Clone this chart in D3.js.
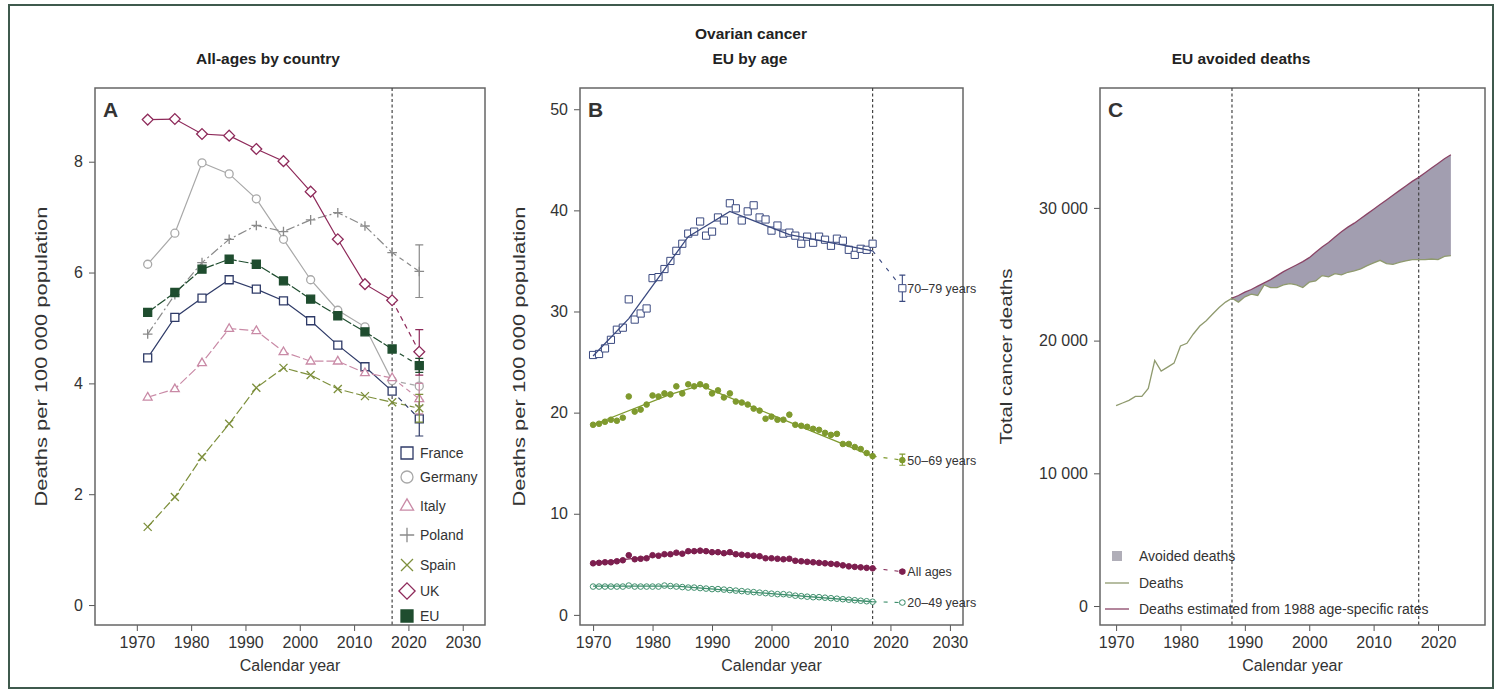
<!DOCTYPE html>
<html>
<head>
<meta charset="utf-8">
<script src="https://cdn.jsdelivr.net/npm/d3@7"></script>
<style>
body{margin:0;background:#fff;}
text{font-family:"Liberation Sans",Arial,sans-serif;fill:#333;}
.ttl{font-family:"Liberation Sans Narrow","Liberation Sans",Arial,sans-serif;font-weight:bold;fill:#222;}
</style>
</head>
<body>
<div id="chart"></div>
<script>
// ---- panel A : all ages by country (5-year periods) ----
const countryYears = [1972,1977,1982,1987,1992,1997,2002,2007,2012,2017]
const predYear = 2022
const countryNames = ["France","Germany","Italy","Poland","Spain","UK","EU"]
const franceRates  = [4.46,5.19,5.54,5.87,5.7,5.49,5.13,4.69,4.3,3.86]
const germanyRates = [6.15,6.71,7.98,7.78,7.33,6.6,5.87,5.32,5.02,4.05]
const italyRates   = [3.75,3.9,4.37,4.99,4.95,4.57,4.4,4.4,4.19,4.1]
const polandRates  = [4.89,5.6,6.18,6.6,6.85,6.74,6.95,7.08,6.84,6.36]
const spainRates   = [1.41,1.95,2.67,3.27,3.92,4.28,4.15,3.9,3.77,3.66]
const ukRates      = [8.76,8.77,8.5,8.47,8.23,8.01,7.46,6.6,5.79,5.5]
const euRates      = [5.28,5.64,6.06,6.24,6.15,5.85,5.52,5.22,4.93,4.62]
// 2022 predictions: [estimate, lower, upper]
const franceHat  = [3.36,3.05,3.7]
const germanyHat = [3.95,3.6,4.3]
const italyHat   = [3.72,3.45,4.0]
const polandHat  = [6.02,5.55,6.5]
const spainHat   = [3.55,3.3,3.8]
const ukHat      = [4.57,4.15,4.97]
const euHat      = [4.32,4.2,4.45]

// ---- panel B : EU by age (annual) ----
const years = d3.range(1970,2018)
const age7079 = [25.7,25.8,26.35,27.2,28.2,28.4,31.2,29.2,29.8,30.3,33.3,33.4,34.2,35.0,36.0,36.7,37.7,37.9,38.9,37.5,
                 37.9,39.3,39.0,40.7,40.2,39.0,39.9,40.5,39.3,39.1,38.0,38.5,37.7,37.8,37.5,36.7,37.4,36.8,37.4,37.1,
                 36.5,37.2,37.0,36.1,35.6,36.2,36.1,36.7]
const age5069 = [18.8,18.9,19.1,19.3,19.2,19.5,21.6,20.1,20.3,20.8,21.7,21.6,21.9,21.8,22.6,21.9,22.8,22.6,22.8,22.6,
                 21.9,22.2,21.5,21.9,21.1,21.0,20.8,20.4,20.2,19.4,19.6,19.3,19.3,19.8,18.8,18.7,18.6,18.4,18.3,18.0,
                 17.8,17.9,16.9,16.9,16.6,16.4,16.0,15.7]
const ageAll  = [5.1,5.15,5.2,5.2,5.3,5.4,5.9,5.5,5.55,5.6,5.9,5.85,6.0,6.0,6.15,6.05,6.3,6.3,6.35,6.3,
                 6.2,6.2,6.1,6.2,6.0,5.95,5.9,5.85,5.8,5.6,5.6,5.55,5.5,5.55,5.35,5.3,5.25,5.2,5.15,5.1,
                 5.05,5.0,4.9,4.8,4.75,4.7,4.65,4.6]
const age2049 = [2.8,2.8,2.8,2.8,2.8,2.8,2.9,2.8,2.8,2.8,2.8,2.8,2.9,2.85,2.8,2.75,2.7,2.7,2.65,2.6,
                 2.55,2.55,2.5,2.45,2.4,2.35,2.3,2.25,2.2,2.15,2.1,2.05,2.05,2.0,1.9,1.85,1.8,1.75,1.75,1.7,
                 1.65,1.6,1.55,1.5,1.45,1.4,1.35,1.3]
// joinpoint fits
const fit7079Years = [1970,1976,1986,1993,2003,2017]
const fit7079      = [25.6,29.3,37.4,39.9,37.6,36.0]
const fit5069Years = [1970,1983,1988,2002,2017]
const fit5069      = [18.8,21.8,22.7,19.3,15.7]
const fitAllYears  = [1970,1988,2017]
const fitAll       = [5.15,6.3,4.6]
const fit2049Years = [1970,1984,2017]
const fit2049      = [2.85,2.85,1.3]
const ageLabels = ["70\u201379 years","50\u201369 years","All ages","20\u201349 years"]
const hat7079 = [32.3,31.0,33.6]
const hat5069 = [15.3,14.8,15.9]
const hatAll  = [4.28,4.15,4.4]
const hat2049 = [1.22,1.1,1.35]

// ---- panel C : EU avoided deaths ----
const deathYears = d3.range(1970,2023)
const deaths = [15100,15300,15500,15800,15800,16400,18500,17700,18000,18300,19600,19800,20500,21100,21500,22000,22500,22900,
                23200,22900,23300,23500,23400,24200,24000,24000,24200,24300,24200,24000,24400,24500,24900,24800,25050,24950,
                25150,25250,25400,25650,25850,26050,25800,25750,25900,26000,26100,26100,26100,26150,26100,26350,26400]
const estYears = d3.range(1988,2023)
const estimated = [23200,23400,23650,23850,24100,24350,24600,24900,25200,25450,25700,25950,26250,26650,27050,27400,27800,28200,
                   28550,28850,29200,29550,29900,30250,30600,30950,31300,31650,32000,32300,32650,33000,33350,33700,34000]

const W = 1501, H = 692
const svg = d3.select("#chart").append("svg").attr("width",W).attr("height",H)

svg.append("rect")
  .attr("x",9).attr("y",5).attr("width",1484).attr("height",683)
  .attr("fill","none").attr("stroke","#3f5a4d").attr("stroke-width",2)

// marker shapes drawn as path strings
function marker(shape, r){
  if(shape=="square") return `M${-r},${-r}h${2*r}v${2*r}h${-2*r}Z`
  if(shape=="circle") return d3.symbol(d3.symbolCircle, Math.PI*r*r)()
  if(shape=="triangle") return `M0,${-r*1.2}L${r*1.1},${r*0.7}L${-r*1.1},${r*0.7}Z`
  if(shape=="plus") return `M${-r*1.2},0H${r*1.2}M0,${-r*1.2}V${r*1.2}`
  if(shape=="times") return `M${-r},${-r}L${r},${r}M${-r},${r}L${r},${-r}`
  if(shape=="diamond") return `M0,${-r*1.35}L${r*1.35},0L0,${r*1.35}L${-r*1.35},0Z`
}

function panel(opt){
  const g = svg.append("g")
  const x = d3.scaleLinear().domain(opt.xDomain).range([opt.left, opt.right])
  const y = d3.scaleLinear().domain(opt.yDomain).range([opt.bottom, opt.top])

  const gx = g.append("g")
    .attr("transform","translate(0,"+opt.bottom+")")
    .call(d3.axisBottom(x).tickValues(opt.xTicks).tickFormat(d3.format("d")).tickSize(6).tickPadding(6))
  const gy = g.append("g")
    .attr("transform","translate("+opt.left+",0)")
    .call(d3.axisLeft(y).tickValues(opt.yTicks).tickFormat(opt.yFormat).tickSize(6).tickPadding(6))
  for(const a of [gx,gy]){
    a.select(".domain").remove()
    a.selectAll("line").attr("stroke","#555")
    a.selectAll("text").style("font-size","16px").attr("fill","#333")
  }

  g.append("rect")
    .attr("x",opt.left).attr("y",opt.top)
    .attr("width",opt.right-opt.left).attr("height",opt.bottom-opt.top)
    .attr("fill","none").attr("stroke","#666").attr("stroke-width",1.5)

  g.append("text")
    .attr("x",(opt.left+opt.right)/2).attr("y",671)
    .attr("text-anchor","middle").style("font-size","16px")
    .text("Calendar year")
  g.append("text")
    .attr("transform","translate("+opt.ylabX+","+(opt.top+opt.bottom)/2+") rotate(-90)")
    .attr("text-anchor","middle").style("font-size","17px")
    .attr("textLength",opt.ylabLen).attr("lengthAdjust","spacingAndGlyphs")
    .text(opt.ylabel)
  g.append("text")
    .attr("x",opt.left+8).attr("y",opt.top+29)
    .style("font-size","21px").style("font-weight","bold").attr("fill","#111")
    .text(opt.letter)
  g.append("text").attr("class","ttl")
    .attr("x",opt.titleX).attr("y",64)
    .attr("text-anchor","middle").style("font-size","15.5px")
    .text(opt.title)

  for(const v of opt.vlines){
    g.append("line")
      .attr("x1",x(v)).attr("x2",x(v)).attr("y1",opt.top).attr("y2",opt.bottom)
      .attr("stroke","#444").attr("stroke-width",1.2).attr("stroke-dasharray","3,2.5")
  }
  return {g:g, x:x, y:y}
}

svg.append("text").attr("class","ttl")
  .attr("x",751).attr("y",39).attr("text-anchor","middle").style("font-size","15.5px")
  .text("Ovarian cancer")

// ================= A =================
const A = panel({left:95, right:485, top:88, bottom:625,
  xDomain:[1962.3,2034.1], yDomain:[-0.36,9.33],
  xTicks:d3.range(1970,2031,10), yTicks:[0,2,4,6,8], yFormat:d3.format("d"),
  ylabX:47, ylabLen:300, ylabel:"Deaths per 100 000 population", letter:"A",
  titleX:268, title:"All-ages by country", vlines:[2017]})

const countries = [
  {name:"France",  rates:franceRates,  hat:franceHat,  shape:"square",   color:"#2f3b68", fill:"#fff", dash:null},
  {name:"Germany", rates:germanyRates, hat:germanyHat, shape:"circle",   color:"#a8a8a8", fill:"#fff", dash:null},
  {name:"Italy",   rates:italyRates,   hat:italyHat,   shape:"triangle", color:"#c98aa6", fill:"#fff", dash:"9,3"},
  {name:"Poland",  rates:polandRates,  hat:polandHat,  shape:"plus",     color:"#8a8a8a", fill:"none", dash:"9,3,2,3"},
  {name:"Spain",   rates:spainRates,   hat:spainHat,   shape:"times",    color:"#7d8f3c", fill:"none", dash:"9,3"},
  {name:"UK",      rates:ukRates,      hat:ukHat,      shape:"diamond",  color:"#8e2a5a", fill:"#fff", dash:null},
  {name:"EU",      rates:euRates,      hat:euHat,      shape:"square",   color:"#1f4d2f", fill:"#1f4d2f", dash:"10,2"}
]
const lineA = d3.line().x(d=>A.x(d[0])).y(d=>A.y(d[1]))

countries.forEach(c => {
  const pts = countryYears.map((yr,i)=>[yr,c.rates[i]])
  A.g.append("path")
    .attr("d",lineA(pts)).attr("fill","none")
    .attr("stroke",c.color).attr("stroke-width",1.2)
    .attr("stroke-dasharray",c.dash)
  A.g.append("path")
    .attr("d",lineA([pts[pts.length-1],[predYear,c.hat[0]]])).attr("fill","none")
    .attr("stroke",c.color).attr("stroke-width",1.2).attr("stroke-dasharray","5,4")
  // error bar
  const xp = A.x(predYear)
  A.g.append("path")
    .attr("d",`M${xp},${A.y(c.hat[1])}V${A.y(c.hat[2])}M${xp-4},${A.y(c.hat[1])}h8M${xp-4},${A.y(c.hat[2])}h8`)
    .attr("stroke",c.color).attr("stroke-width",1.2).attr("fill","none")
  A.g.selectAll(null)
    .data(pts.concat([[predYear,c.hat[0]]]))
    .enter()
    .append("path")
      .attr("transform",d=>"translate("+A.x(d[0])+","+A.y(d[1])+")")
      .attr("d",marker(c.shape,4))
      .attr("fill",c.fill).attr("stroke",c.color).attr("stroke-width",1.3)
})

// legend A
const legA = A.g.append("g").attr("transform","translate(407,0)")
const legAY = [453,477,506,535,565,591,616]
countries.forEach((c,i)=>{
  legA.append("path")
    .attr("transform","translate(0,"+legAY[i]+")")
    .attr("d",marker(c.shape,6))
    .attr("fill",c.fill=="none"?"none":(c.name=="EU"?c.color:"#fff"))
    .attr("stroke",c.color).attr("stroke-width",1.3)
  legA.append("text")
    .attr("x",13).attr("y",legAY[i]).attr("dy","0.35em")
    .style("font-size","14px")
    .text(c.name)
})

// ================= B =================
const B = panel({left:580, right:963, top:88, bottom:625,
  xDomain:[1967.8,2032.2], yDomain:[-1,52.1],
  xTicks:d3.range(1970,2031,10), yTicks:d3.range(0,51,10), yFormat:d3.format("d"),
  ylabX:525, ylabLen:300, ylabel:"Deaths per 100 000 population", letter:"B",
  titleX:750, title:"EU by age", vlines:[2017]})

const ageGroups = [
  {label:ageLabels[0], vals:age7079, fy:fit7079Years, fv:fit7079, hat:hat7079, shape:"square", r:3.6, color:"#3b4a80", fill:"#fff"},
  {label:ageLabels[1], vals:age5069, fy:fit5069Years, fv:fit5069, hat:hat5069, shape:"circle", r:2.8, color:"#7f9a2e", fill:"#7f9a2e"},
  {label:ageLabels[2], vals:ageAll,  fy:fitAllYears,  fv:fitAll,  hat:hatAll,  shape:"circle", r:2.8, color:"#7d1f4f", fill:"#7d1f4f"},
  {label:ageLabels[3], vals:age2049, fy:fit2049Years, fv:fit2049, hat:hat2049, shape:"circle", r:2.8, color:"#3f8f6d", fill:"#fff"}
]
const lineB = d3.line().x(d=>B.x(d[0])).y(d=>B.y(d[1]))

ageGroups.forEach(a => {
  B.g.selectAll(null)
    .data(years.map((yr,i)=>[yr,a.vals[i]]))
    .enter()
    .append("path")
      .attr("transform",d=>"translate("+B.x(d[0])+","+B.y(d[1])+")")
      .attr("d",marker(a.shape,a.r))
      .attr("fill",a.fill).attr("stroke",a.color).attr("stroke-width",1)
  const fit = a.fy.map((yr,i)=>[yr,a.fv[i]])
  B.g.append("path")
    .attr("d",lineB(fit)).attr("fill","none")
    .attr("stroke",a.color).attr("stroke-width",1.3)
  B.g.append("path")
    .attr("d",lineB([fit[fit.length-1],[predYear,a.hat[0]]])).attr("fill","none")
    .attr("stroke",a.color).attr("stroke-width",1.1).attr("stroke-dasharray","4,7")
  const xp = B.x(predYear)
  B.g.append("path")
    .attr("d",`M${xp},${B.y(a.hat[1])}V${B.y(a.hat[2])}M${xp-3},${B.y(a.hat[1])}h6M${xp-3},${B.y(a.hat[2])}h6`)
    .attr("stroke",a.color).attr("stroke-width",1.1).attr("fill","none")
  B.g.append("path")
    .attr("transform","translate("+xp+","+B.y(a.hat[0])+")")
    .attr("d",marker(a.shape,a.r))
    .attr("fill",a.fill).attr("stroke",a.color).attr("stroke-width",1)
  B.g.append("text")
    .attr("x",xp+5).attr("y",B.y(a.hat[0])).attr("dy","0.35em")
    .style("font-size","12.5px")
    .text(a.label)
})

// ================= C =================
const C = panel({left:1100, right:1485, top:88, bottom:625,
  xDomain:[1967.5,2027.3], yDomain:[-1430,39035],
  xTicks:d3.range(1970,2021,10), yTicks:d3.range(0,30001,10000),
  yFormat:d=>d3.format(",")(d).replace(",","\u00a0"),
  ylabX:1012, ylabLen:176, ylabel:"Total cancer deaths", letter:"C",
  titleX:1241, title:"EU avoided deaths", vlines:[1988,2017]})

const area = d3.area()
  .x(d=>C.x(d[0])).y0(d=>C.y(d[1])).y1(d=>C.y(d[2]))
const areaData = estYears.map((yr,i)=>[yr, deaths[deathYears.indexOf(yr)], estimated[i]])
C.g.insert("path",":first-child")
  .attr("d",area(areaData))
  .attr("fill","#a29eb0")

const lineC = d3.line().x(d=>C.x(d[0])).y(d=>C.y(d[1]))
C.g.append("path")
  .attr("d",lineC(deathYears.map((yr,i)=>[yr,deaths[i]]))).attr("fill","none")
  .attr("stroke","#8f9a6e").attr("stroke-width",1.3)
C.g.append("path")
  .attr("d",lineC(estYears.map((yr,i)=>[yr,estimated[i]]))).attr("fill","none")
  .attr("stroke","#8a4466").attr("stroke-width",1.3)

// legend C
const legC = C.g.append("g")
legC.append("rect").attr("x",1112).attr("y",551).attr("width",10).attr("height",10).attr("fill","#b0aeb8")
legC.append("line").attr("x1",1105).attr("x2",1129).attr("y1",583).attr("y2",583).attr("stroke","#8f9a6e").attr("stroke-width",1.3)
legC.append("line").attr("x1",1105).attr("x2",1129).attr("y1",609).attr("y2",609).attr("stroke","#8a4466").attr("stroke-width",1.3)
const legCText = ["Avoided deaths","Deaths","Deaths estimated from 1988 age-specific rates"]
legC.selectAll(null)
  .data(legCText)
  .enter()
  .append("text")
    .attr("x",1139).attr("y",(d,i)=>[556,583,609][i]).attr("dy","0.35em")
    .style("font-size","14px")
    .text(d=>d)
</script>
</body>
</html>
